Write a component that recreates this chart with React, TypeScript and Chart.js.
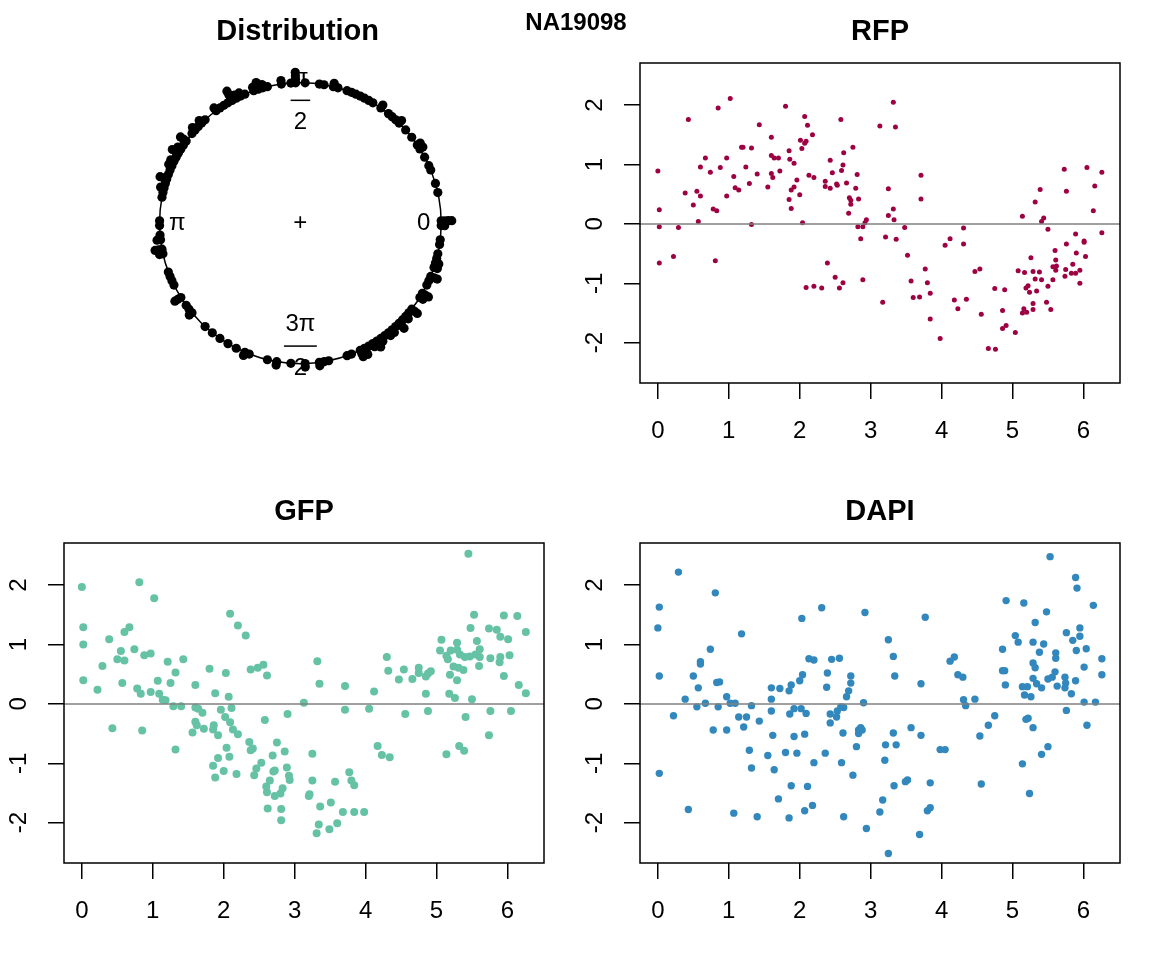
import React, { useEffect, useRef } from "react";
import { Chart, registerables } from "chart.js";

Chart.register(...registerables);

const FONT = '"Liberation Sans", Arial, Helvetica, sans-serif';

// ---- data ----
const rfpX = [0.00,0.02,0.02,0.02,0.29,0.22,0.43,0.385,0.50,0.55,
  0.60,0.57,0.60,0.67,0.74,0.78,0.83,0.81,0.85,0.88,
  0.97,0.97,1.02,1.07,1.09,1.14,1.18,1.20,1.24,1.29,
  1.32,1.32,1.40,1.43,1.55,1.60,1.60,1.60,1.62,1.64,
  1.70,1.72,1.80,1.85,1.86,1.92,1.85,1.88,1.88,1.92,
  1.96,2.00,2.04,2.03,2.01,2.07,2.11,2.07,2.09,2.18,
  2.09,2.20,2.31,2.13,2.20,2.39,2.50,2.43,2.36,2.36,
  2.43,2.46,2.52,2.53,2.58,2.62,2.61,2.59,2.56,2.61,
  2.66,2.75,2.81,2.79,2.70,2.72,2.72,2.83,2.69,2.82,
  2.89,2.92,2.94,2.86,2.89,3.13,3.25,3.25,3.21,3.17,
  3.32,3.35,3.32,3.33,3.36,3.48,3.52,3.71,3.71,3.57,
  3.60,3.69,3.77,3.80,3.84,3.84,3.98,4.05,4.12,4.31,
  4.31,4.18,4.23,4.35,4.47,4.54,4.56,4.66,4.76,4.75,
  4.89,4.86,4.86,4.91,5.04,5.08,5.17,5.14,5.26,5.29,
  5.38,5.32,5.41,5.19,5.22,5.24,5.34,5.29,5.29,5.16,
  5.14,5.20,5.32,5.39,5.41,5.44,5.50,5.48,5.54,5.50,
  5.57,5.60,5.61,5.62,5.57,5.61,5.73,5.76,5.76,5.74,
  5.75,5.85,5.83,5.89,5.90,5.95,5.95,5.89,6.01,6.01,
  6.03,6.05,6.16,6.14,6.26,6.26];
const rfpY = [0.89,0.24,-0.05,-0.66,-0.06,-0.55,1.76,0.52,0.32,0.55,
  0.47,0.04,0.96,1.11,0.87,0.25,0.22,-0.62,1.95,0.95,
  1.11,0.47,2.11,0.80,0.61,0.57,1.29,1.29,0.96,0.68,
  1.28,-0.01,0.84,1.67,0.62,1.46,1.15,0.85,0.78,1.11,
  1.11,0.89,1.98,1.23,1.09,1.02,0.41,0.26,0.57,0.62,
  0.74,0.49,0.02,1.27,1.41,1.81,1.66,1.36,1.39,1.50,
  -1.07,-1.05,-1.08,0.82,0.78,-0.66,-0.90,1.07,0.72,0.63,
  0.60,0.86,0.67,0.65,1.76,1.20,0.99,0.90,-1.08,-0.99,
  0.69,1.29,0.83,0.60,0.44,0.40,0.33,0.42,0.18,-0.05,
  -0.05,0.02,0.07,-0.25,-0.94,1.65,0.59,0.14,-0.22,-1.32,
  2.05,1.63,0.25,0.07,-0.26,-0.06,-0.53,0.82,0.42,-0.96,
  -1.24,-1.23,-0.76,-0.99,-1.17,-1.60,-1.93,-0.36,-0.25,-0.07,
  -0.34,-1.28,-1.43,-1.27,-0.80,-0.76,-1.52,-2.10,-2.11,-1.09,
  -1.11,-1.46,-1.76,-1.71,-1.83,-0.79,-0.82,0.13,-0.57,-0.80,
  -0.81,-0.93,-0.94,-1.08,-1.04,-1.15,-1.13,-1.34,-1.44,-1.43,
  -1.50,-1.49,0.37,0.58,0.04,0.10,-0.09,-1.32,-1.44,-1.05,
  -0.94,-0.45,-0.61,-0.71,-0.72,-0.78,0.92,0.55,-0.34,-0.88,
  -0.77,-0.68,-0.83,-0.83,-0.49,-0.78,-1.00,-0.17,-0.29,-0.31,
  -0.55,0.95,0.64,0.22,0.87,-0.15];

const gfpX = [0.00,0.02,0.02,0.02,0.22,0.29,0.385,0.43,0.50,0.55,
  0.60,0.60,0.67,0.57,0.74,0.81,0.78,0.83,0.85,0.88,
  0.97,1.02,0.97,1.07,1.09,1.14,1.18,1.21,1.25,1.32,
  1.29,1.32,1.40,1.43,1.60,1.60,1.64,1.70,1.60,1.56,
  1.62,1.72,1.80,1.85,1.86,1.92,1.88,1.96,2.03,2.09,
  2.07,2.11,2.02,2.09,2.13,2.20,2.04,2.08,1.92,1.85,
  1.88,2.00,2.18,2.20,2.31,2.38,2.48,2.56,2.61,2.58,
  2.36,2.41,2.38,2.53,2.46,2.43,2.75,2.69,2.86,2.72,
  2.70,2.89,2.92,2.93,2.65,2.60,2.61,2.72,2.80,2.83,
  2.62,2.81,2.81,2.90,3.13,3.25,3.21,3.25,3.20,3.32,
  3.35,3.31,3.34,3.36,3.49,3.51,3.57,3.60,3.68,3.71,
  3.71,3.77,3.80,3.84,3.84,3.98,4.05,4.12,4.17,4.23,
  4.34,4.30,4.32,4.47,4.54,4.56,4.66,4.75,4.75,4.85,
  4.88,4.92,4.85,4.88,5.07,5.05,5.14,5.16,5.20,5.29,
  5.29,5.33,5.40,5.47,5.55,5.61,5.61,5.57,5.48,5.53,
  5.45,5.24,5.19,5.29,5.31,5.38,5.60,5.18,5.26,5.50,
  5.41,5.14,5.32,5.39,5.74,5.76,5.74,5.85,5.90,5.95,
  6.01,5.76,5.90,5.89,6.03,5.95,6.14,6.26,6.16,6.26,
  6.05];
const gfpY = [1.97,1.29,1.00,0.40,0.24,0.64,1.09,-0.41,0.75,0.89,
  0.73,1.21,1.29,0.35,0.92,2.05,0.26,0.17,-0.45,0.82,
  0.85,1.78,0.20,0.39,0.17,0.07,0.06,0.71,0.35,0.53,
  -0.04,-0.77,-0.04,0.75,0.32,-0.06,-0.08,-0.15,-0.30,-0.48,
  -0.36,-0.42,0.59,-0.43,-0.36,-0.53,0.18,-0.10,0.52,1.52,
  0.12,-0.07,-0.22,-0.31,-0.43,-0.51,-0.74,-0.89,-0.91,-1.04,
  -1.24,-1.13,-1.18,1.32,1.15,0.58,0.61,0.66,0.48,-0.27,
  -0.64,-0.75,-0.78,-0.99,-1.09,-1.20,-0.65,-0.87,-0.80,-1.12,
  -1.14,-1.07,-1.21,-1.28,-1.29,-1.39,-1.49,-1.55,-1.51,-1.42,
  -1.76,-1.77,-1.96,-0.17,0.02,-0.84,-1.52,-1.29,-1.55,0.72,
  0.34,-2.18,-2.03,-1.73,-2.11,-1.66,-1.31,-2.01,-1.82,0.30,
  -0.10,-1.15,-1.29,-1.37,-1.82,-1.82,-0.08,0.21,-0.71,-0.86,
  -0.90,0.79,0.56,0.41,0.58,-0.17,0.42,0.61,0.52,0.46,
  0.51,0.55,0.17,-0.12,1.08,0.90,0.81,0.75,0.90,1.03,
  0.91,0.83,0.79,0.80,0.83,0.79,0.92,1.06,1.28,1.50,
  2.53,0.63,0.49,0.40,0.61,0.57,0.64,0.17,0.10,0.08,
  -0.22,-0.85,-0.71,-0.79,-0.53,-0.12,1.27,1.25,1.13,1.49,
  1.09,0.77,0.79,0.70,0.82,0.47,1.48,1.21,0.32,0.18,
  -0.12];

const dapiX = [0.02,0.00,0.02,0.02,0.29,0.22,0.385,0.43,0.50,0.57,
  0.55,0.60,0.60,0.67,0.74,0.81,0.83,0.87,0.85,0.78,
  0.97,0.97,1.02,1.09,1.07,1.14,1.18,1.21,1.25,1.32,
  1.29,1.32,1.40,1.43,1.55,1.60,1.60,1.60,1.62,1.64,
  1.70,1.72,1.85,1.88,1.80,1.86,1.92,1.92,1.88,1.85,
  1.96,2.00,2.04,2.03,2.02,2.09,2.07,2.11,2.07,2.18,
  2.13,2.20,2.20,2.31,2.36,2.38,2.39,2.45,2.56,2.43,
  2.43,2.52,2.53,2.58,2.62,2.61,2.59,2.62,2.66,2.69,
  2.72,2.72,2.80,2.75,2.83,2.86,2.88,2.83,2.90,2.92,
  2.94,3.13,3.17,3.20,3.21,3.25,3.25,3.32,3.34,3.32,
  3.36,3.33,3.49,3.52,3.57,3.71,3.71,3.77,3.84,3.80,
  3.84,3.69,3.98,4.05,4.12,4.18,4.23,4.30,4.31,4.34,
  4.47,4.54,4.56,4.66,4.75,4.86,4.86,4.89,4.90,4.91,
  5.04,5.08,5.16,5.14,5.19,5.22,5.29,5.24,5.14,5.21,
  5.17,5.26,5.29,5.29,5.32,5.29,5.34,5.41,5.32,5.38,
  5.44,5.48,5.53,5.50,5.56,5.60,5.61,5.61,5.63,5.41,
  5.50,5.74,5.75,5.74,5.76,5.76,5.83,5.85,5.89,5.91,
  5.95,5.95,5.90,5.89,6.01,6.04,6.01,6.05,6.14,6.17,
  6.26,6.26];
const dapiY = [1.63,1.28,0.47,-1.17,2.22,-0.20,0.08,-1.78,0.47,0.27,
  -0.05,0.71,0.67,0.01,0.92,1.87,0.36,0.37,-0.05,-0.44,
  -0.44,0.12,0.01,0.01,-1.84,-0.22,1.18,-0.39,-0.22,-0.03,
  -0.78,-1.08,-1.90,-0.29,-0.87,0.27,0.08,-0.12,-0.53,-1.11,
  -1.60,0.26,0.22,0.32,-0.82,-0.17,-0.08,-0.55,-1.38,-1.92,
  -0.83,0.39,0.49,1.44,-0.08,-0.16,-0.51,-1.39,-1.80,-1.71,
  0.76,0.74,-0.99,1.62,-0.83,0.28,0.52,0.75,0.77,-0.17,
  -0.32,-0.22,-0.12,-0.05,-0.06,-0.49,-0.99,-1.90,0.12,0.22,
  0.35,0.47,-0.72,-1.20,-0.44,-0.40,-0.44,-0.50,0.02,1.54,
  -2.10,-1.82,-1.62,-0.95,-0.69,1.08,-2.52,0.80,0.47,-0.49,
  -0.69,-1.38,-1.31,-1.28,-0.40,-0.53,0.34,1.46,-1.33,-1.80,
  -1.75,-2.20,-0.77,-0.77,0.72,0.79,0.49,0.45,0.07,-0.03,
  0.08,-0.54,-1.35,-0.36,-0.20,0.92,0.56,0.56,0.32,1.74,
  1.15,1.04,1.70,-1.01,-0.26,-0.24,-0.40,-1.51,0.29,0.29,
  0.15,0.12,1.04,0.69,0.61,0.43,0.34,0.27,1.37,0.87,
  1.01,1.55,2.48,0.42,0.45,0.54,0.86,0.77,0.30,-0.85,
  -0.72,0.45,0.35,0.27,1.20,-0.11,0.17,1.07,2.13,1.95,
  1.28,1.14,0.90,0.39,0.62,0.93,0.03,-0.36,1.66,0.03,
  0.76,0.49];

const xTicks = [0, 1, 2, 3, 4, 5, 6];
const yTicks = [-2, -1, 0, 1, 2];
const xLimits = [-0.252, 6.516];
const yLimits = [-2.68, 2.71];

const circleLabelAngles = [0, Math.PI / 2, Math.PI, (3 * Math.PI) / 2];
const circleLabelNum = ["0", "\u03c0", "\u03c0", "3\u03c0"];
const circleLabelDen = ["", "2", "", "2"];

const COLORS = { rfp: "#9E0142", gfp: "#66C2A5", dapi: "#3288BD" };

// stacked points on the circle (circular::plot with stack = TRUE, bins = n, sep = 0.025)
function stackedCircle(theta: number[], sep: number) {
  const bins = theta.length;
  const arc = (2 * Math.PI) / bins;
  const counts = new Array(bins).fill(0);
  theta.forEach((t) => {
    const v = ((t % (2 * Math.PI)) + 2 * Math.PI) % (2 * Math.PI);
    const idx = Math.min(bins - 1, Math.max(0, Math.ceil(v / arc) - 1));
    counts[idx] += 1;
  });
  const pts: { x: number; y: number }[] = [];
  counts.forEach((c, i) => {
    const mid = arc / 2 + i * arc;
    for (let j = 0; j < c; j++) {
      const r = 1 + j * sep;
      pts.push({ x: r * Math.cos(mid), y: r * Math.sin(mid) });
    }
  });
  return pts;
}

const framePlugin = {
  id: "frame",
  afterDatasetsDraw(chart: any) {
    const { ctx, chartArea: a, scales } = chart;
    const y0 = scales.y.getPixelForValue(0);
    ctx.save();
    ctx.strokeStyle = "#808080";
    ctx.lineWidth = 1.5;
    ctx.beginPath();
    ctx.moveTo(a.left, y0);
    ctx.lineTo(a.right, y0);
    ctx.stroke();
    ctx.strokeStyle = "#000";
    ctx.lineWidth = 1.5;
    ctx.strokeRect(a.left, a.top, a.right - a.left, a.bottom - a.top);
    ctx.restore();
  },
};

const circlePlugin = {
  id: "circleFrame",
  beforeDatasetsDraw(chart: any) {
    const { ctx, scales } = chart;
    const sx = scales.x;
    const sy = scales.y;
    const cx = sx.getPixelForValue(0);
    const cy = sy.getPixelForValue(0);
    const rx = sx.getPixelForValue(1) - cx;
    const ry = cy - sy.getPixelForValue(1);
    ctx.save();
    ctx.strokeStyle = "#000";
    ctx.lineWidth = 1.5;
    ctx.beginPath();
    ctx.ellipse(cx, cy, rx, ry, 0, 0, 2 * Math.PI);
    ctx.stroke();
    ctx.fillStyle = "#000";
    ctx.font = `24px ${FONT}`;
    ctx.textAlign = "center";
    ctx.textBaseline = "middle";
    ctx.fillText("+", cx, cy);
    const lr = 0.875;
    circleLabelAngles.forEach((ang, i) => {
      const px = sx.getPixelForValue(lr * Math.cos(ang));
      const py = sy.getPixelForValue(lr * Math.sin(ang));
      const num = circleLabelNum[i];
      const den = circleLabelDen[i];
      if (!den) {
        ctx.fillText(num, px, py);
      } else {
        ctx.fillText(num, px, py - 22);
        ctx.fillText(den, px, py + 22);
        const w = Math.max(ctx.measureText(num).width, ctx.measureText(den).width) + 3;
        ctx.fillRect(px - w / 2, py - 0.75, w, 1.5);
      }
    });
    ctx.restore();
  },
};

function titleOpts(text: string) {
  return {
    display: true,
    text,
    fullSize: false,
    color: "#000",
    font: { family: FONT, size: 29, weight: "bold" as const, lineHeight: 1.2 },
    padding: { top: 14.6, bottom: 13.6 },
  };
}

function scatterConfig(title: string, xs: number[], ys: number[], color: string, radius: number): any {
  return {
    type: "scatter",
    data: {
      datasets: [
        {
          data: xs.map((x, i) => ({ x, y: ys[i] })),
          pointRadius: radius,
          pointHoverRadius: radius,
          pointBackgroundColor: color,
          pointBorderColor: color,
          pointBorderWidth: 0,
          showLine: false,
        },
      ],
    },
    options: {
      responsive: false,
      animation: false,
      events: [],
      layout: { padding: { left: 0, right: 32, top: 0, bottom: 0 } },
      plugins: {
        legend: { display: false },
        tooltip: { enabled: false },
        title: titleOpts(title),
      },
      scales: {
        x: {
          type: "linear",
          min: xLimits[0],
          max: xLimits[1],
          afterBuildTicks: (s: any) => {
            s.ticks = xTicks.map((v) => ({ value: v }));
          },
          afterFit: (s: any) => {
            s.height = 97;
          },
          grid: { drawOnChartArea: false, drawTicks: true, tickLength: 16, tickColor: "#000", tickWidth: 1.5, lineWidth: 1.5 },
          border: { display: false },
          ticks: {
            color: "#000",
            font: { family: FONT, size: 24 },
            padding: 18,
            minRotation: 0,
            maxRotation: 0,
            autoSkip: false,
            callback: (v: any) => String(v),
          },
        },
        y: {
          type: "linear",
          min: yLimits[0],
          max: yLimits[1],
          afterBuildTicks: (s: any) => {
            s.ticks = yTicks.map((v) => ({ value: v }));
          },
          afterFit: (s: any) => {
            s.width = 64;
          },
          grid: { drawOnChartArea: false, drawTicks: true, tickLength: 16, tickColor: "#000", tickWidth: 1.5, lineWidth: 1.5 },
          border: { display: false },
          ticks: {
            color: "#000",
            font: { family: FONT, size: 24 },
            padding: 18.3,
            minRotation: 90,
            maxRotation: 90,
            crossAlign: "center",
            autoSkip: false,
            callback: (v: any) => String(v),
          },
        },
      },
    },
    plugins: [framePlugin],
  };
}

function circleConfig(): any {
  return {
    type: "scatter",
    data: {
      datasets: [
        {
          data: stackedCircle(rfpX, 0.025),
          pointRadius: 4.6,
          pointHoverRadius: 4.6,
          pointBackgroundColor: "#000",
          pointBorderColor: "#000",
          pointBorderWidth: 0,
          clip: false,
        },
      ],
    },
    options: {
      responsive: false,
      animation: false,
      events: [],
      layout: { padding: { left: 24, right: 0, top: 0, bottom: 0 } },
      plugins: {
        legend: { display: false },
        tooltip: { enabled: false },
        title: titleOpts("Distribution"),
      },
      scales: {
        x: { type: "linear", display: false, min: -1.9627, max: 1.9246 },
        y: { type: "linear", display: false, min: -1.7958, max: 1.1408 },
      },
    },
    plugins: [circlePlugin],
  };
}

export default function App() {
  const c0 = useRef<HTMLCanvasElement>(null);
  const c1 = useRef<HTMLCanvasElement>(null);
  const c2 = useRef<HTMLCanvasElement>(null);
  const c3 = useRef<HTMLCanvasElement>(null);

  useEffect(() => {
    const charts: Chart[] = [];
    if (c0.current) charts.push(new Chart(c0.current, circleConfig()));
    if (c1.current) charts.push(new Chart(c1.current, scatterConfig("RFP", rfpX, rfpY, COLORS.rfp, 2.5)));
    if (c2.current) charts.push(new Chart(c2.current, scatterConfig("GFP", gfpX, gfpY, COLORS.gfp, 4)));
    if (c3.current) charts.push(new Chart(c3.current, scatterConfig("DAPI", dapiX, dapiY, COLORS.dapi, 3.7)));
    return () => charts.forEach((c) => c.destroy());
  }, []);

  const cs = (left: number, top: number): React.CSSProperties => ({
    position: "absolute",
    left,
    top,
    width: 576,
    height: 480,
  });

  return (
    <div style={{ position: "absolute", left: 0, top: 0, width: 1152, height: 960, background: "#fff" }}>
      <canvas ref={c0} width={576} height={480} style={cs(0, 0)} />
      <canvas ref={c1} width={576} height={480} style={cs(576, 0)} />
      <canvas ref={c2} width={576} height={480} style={cs(0, 480)} />
      <canvas ref={c3} width={576} height={480} style={cs(576, 480)} />
      <div
        style={{
          position: "absolute",
          left: 0,
          top: 10,
          width: 1152,
          textAlign: "center",
          fontFamily: FONT,
          fontWeight: "bold",
          fontSize: 24,
          lineHeight: "24px",
          color: "#000",
          pointerEvents: "none",
        }}
      >
        NA19098
      </div>
    </div>
  );
}
